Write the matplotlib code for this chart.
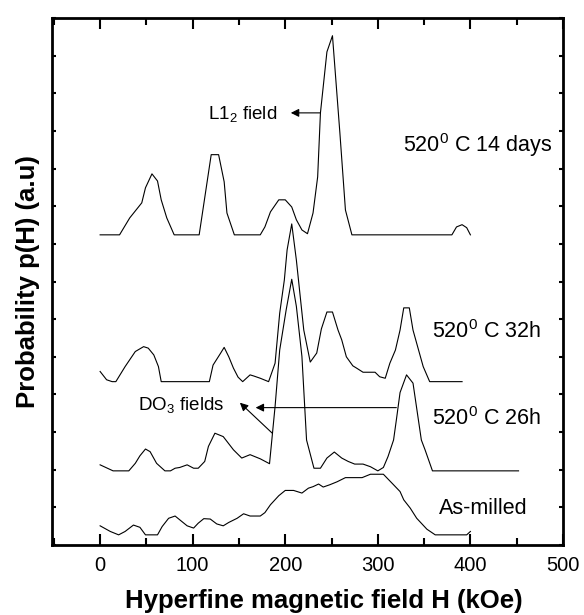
import numpy as np
import matplotlib.pyplot as plt
from matplotlib.ticker import MultipleLocator

plt.rcParams['font.family'] = ['Liberation Sans', 'DejaVu Sans']
plt.rcParams['mathtext.fontset'] = 'custom'
plt.rcParams['mathtext.rm'] = 'Liberation Sans'
plt.rcParams['mathtext.it'] = 'Liberation Sans'

# hyperfine field distributions p(H), each curve relative to its own baseline
h_14d = [0, 21, 32, 45, 49, 56, 62, 66, 72, 80, 107, 120, 128, 134, 137, 145,
         173, 178, 184, 193, 200, 207, 212, 218, 224, 230, 235, 238, 245, 251,
         259, 265, 272, 380, 385, 391, 396, 400]
p_14d = [0, 0, 0.45, 0.85, 1.25, 1.62, 1.43, 0.93, 0.45, 0, 0, 2.13, 2.13, 1.41,
         0.58, 0, 0, 0.21, 0.61, 0.93, 0.93, 0.74, 0.40, 0.13, 0.03, 0.58, 1.54,
         3.24, 4.86, 5.29, 2.71, 0.66, 0, 0, 0.21, 0.27, 0.19, 0]

h_32h = [0, 7, 13, 17, 27, 38, 47, 52, 58, 63, 66, 118, 122, 130, 134, 139, 144,
         149, 154, 162, 166, 173, 182, 189, 194, 199, 202, 207, 212, 220, 227, 234,
         239, 245, 251, 257, 261, 266, 273, 277, 284, 297, 302, 308, 313, 319, 324,
         328, 334, 338, 344, 349, 356, 391]
p_32h = [0.27, 0.05, 0, 0, 0.40, 0.80, 0.93, 0.89, 0.71, 0.40, 0, 0, 0.44, 0.75,
         0.91, 0.66, 0.36, 0.12, 0, 0.18, 0.15, 0.09, 0, 0.49, 1.82, 2.70, 3.50,
         4.19, 3.23, 1.37, 0.52, 0.76, 1.40, 1.85, 1.85, 1.37, 1.11, 0.66, 0.42,
         0.36, 0.25, 0.25, 0.13, 0.09, 0.49, 0.84, 1.37, 1.96, 1.96, 1.37, 0.84,
         0.40, 0, 0]

h_26h = [0, 14, 31, 38, 43, 49, 54, 61, 70, 76, 81, 86, 94, 101, 106, 113, 117,
         124, 133, 144, 153, 162, 173, 183, 189, 194, 201, 207, 212, 218, 223, 231,
         238, 245, 253, 261, 268, 275, 284, 292, 300, 306, 311, 317, 320, 324, 331,
         338, 347, 351, 359, 452]
p_26h = [0.16, 0, 0, 0.20, 0.40, 0.58, 0.51, 0.20, 0, 0, 0.07, 0.09, 0.16, 0.07,
         0.07, 0.25, 0.65, 1.00, 0.91, 0.56, 0.34, 0.43, 0.32, 0.19, 1.71, 3.21,
         4.28, 5.09, 4.37, 3.04, 0.82, 0.07, 0.07, 0.34, 0.50, 0.34, 0.25, 0.18,
         0.18, 0.11, 0, 0.09, 0.38, 0.82, 1.35, 2.08, 2.55, 2.33, 0.82, 0.56, 0, 0]

h_milled = [0, 11, 20, 27, 36, 43, 49, 62, 67, 74, 81, 86, 94, 101, 106, 112, 119,
            126, 133, 139, 148, 155, 162, 173, 178, 184, 193, 200, 209, 218, 225,
            230, 236, 241, 248, 256, 265, 283, 292, 306, 317, 324, 328, 335, 342,
            353, 362, 396, 400]
p_milled = [0.24, 0.09, 0, 0.09, 0.26, 0.20, 0, 0, 0.22, 0.44, 0.50, 0.40, 0.24,
            0.18, 0.31, 0.43, 0.42, 0.29, 0.24, 0.33, 0.44, 0.56, 0.50, 0.50, 0.59,
            0.80, 1.04, 1.18, 1.18, 1.11, 1.24, 1.28, 1.35, 1.27, 1.33, 1.41, 1.52,
            1.52, 1.61, 1.61, 1.33, 1.15, 0.93, 0.71, 0.44, 0.15, 0, 0, 0.09]

offsets = [8.24, 4.34, 1.97, 0.27]
labels = ["520$^0$ C 14 days", "520$^0$ C 32h", "520$^0$ C 26h", "As-milled"]
label_pos = [(327, 10.63), (359, 5.67), (359, 3.35), (366, 0.98)]

curves = [(h_14d, p_14d), (h_32h, p_32h), (h_26h, p_26h), (h_milled, p_milled)]

fig = plt.figure(figsize=(5.84, 6.15), dpi=100)
ax = fig.add_axes([0.089, 0.1138, 0.875, 0.8569])

for (h, p), off, lab, pos in zip(curves, offsets, labels, label_pos):
    ax.plot(h, np.array(p) + off, color='k', lw=0.8)
    ax.text(pos[0], pos[1], lab, fontsize=15.5, va='center', ha='left')

arrow = dict(arrowstyle='-|>', color='k', lw=0.8, mutation_scale=12,
             shrinkA=0, shrinkB=0)

# L1_2 field
ax.text(117, 11.45, "L1$_2$ field", fontsize=13.5, va='center', ha='left')
ax.annotate("", xy=(206, 11.48), xytext=(238, 11.48), arrowprops=arrow)

# DO_3 fields
ax.text(41, 3.72, "DO$_3$ fields", fontsize=13.5, va='center', ha='left')
ax.annotate("", xy=(168, 3.65), xytext=(320, 3.65), arrowprops=arrow)
ax.annotate("", xy=(151, 3.78), xytext=(186, 2.97), arrowprops=arrow)

ax.set_xlim(-52, 500)
ax.set_ylim(0, 14)
ax.xaxis.set_major_locator(MultipleLocator(100))
ax.xaxis.set_minor_locator(MultipleLocator(50))
ax.yaxis.set_major_locator(MultipleLocator(1))
ax.set_yticklabels([])
ax.tick_params(axis='x', which='major', direction='in', length=8, width=1.5,
               top=True, labelsize=14.5, pad=8)
ax.tick_params(axis='x', which='minor', direction='in', length=5, width=1.5, top=True)
ax.tick_params(axis='y', which='major', direction='in', length=3, width=1.5,
               right=True, left=True)
for s in ax.spines.values():
    s.set_linewidth(2)

ax.set_xlabel("Hyperfine magnetic field H (kOe)", fontsize=18.5, fontweight='bold',
              labelpad=10, x=0.532)
ax.set_ylabel("Probability p(H) (a.u)", fontsize=18.5, fontweight='bold', labelpad=5)

fig.savefig("out.png", dpi=100)
